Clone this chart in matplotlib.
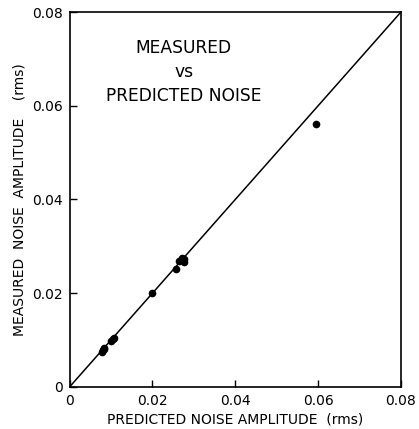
import matplotlib.pyplot as plt

# measured vs predicted noise amplitude (rms)
predicted = [0.0078, 0.0080, 0.0082, 0.0083, 0.0100, 0.0104, 0.0108,
             0.0200, 0.0257, 0.0263, 0.0272, 0.0276, 0.0277, 0.0595]
measured = [0.0075, 0.0078, 0.0081, 0.0084, 0.0099, 0.0102, 0.0105,
            0.0200, 0.0251, 0.0268, 0.0275, 0.0272, 0.0266, 0.0561]

ticks = [0, 0.02, 0.04, 0.06, 0.08]
tick_labels = ['0', '0.02', '0.04', '0.06', '0.08']

fig = plt.figure(figsize=(4.19, 4.29), dpi=100)
ax = fig.add_axes([0.166, 0.098, 0.791, 0.874])

ax.plot([0, 0.08], [0, 0.08], color='black', lw=1.1)
ax.plot(predicted, measured, 'o', color='black', ms=4.5)

ax.set_xlim(0, 0.08)
ax.set_ylim(0, 0.08)
ax.set_xticks(ticks)
ax.set_yticks(ticks)
ax.set_xticklabels(tick_labels, fontsize=10)
ax.set_yticklabels(tick_labels, fontsize=10)
ax.tick_params(direction='in', length=5, width=1, pad=5)
for s in ax.spines.values():
    s.set_linewidth(1.2)

ax.set_xlabel('PREDICTED NOISE AMPLITUDE  (rms)', fontsize=10, labelpad=3.5)
ax.set_ylabel('MEASURED  NOISE  AMPLITUDE    (rms)', fontsize=10, labelpad=4)

ax.text(0.0276, 0.0672, 'MEASURED\nvs\nPREDICTED NOISE', ha='center', va='center',
        fontsize=12.3, linespacing=1.45)

plt.savefig('out.png', dpi=100, facecolor='white')
